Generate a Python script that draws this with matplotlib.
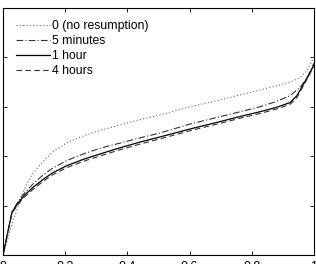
import matplotlib
matplotlib.use("Agg")
import matplotlib.pyplot as plt

plt.rcParams['font.family'] = ['Liberation Sans', 'DejaVu Sans']

labels = ["0 (no resumption)", "5 minutes", "1 hour", "4 hours"]

x_none = [0, 0.012, 0.023, 0.04, 0.055, 0.075, 0.096, 0.13, 0.16, 0.206, 0.25, 0.30, 0.376, 0.44,
          0.505, 0.601, 0.698, 0.826, 0.88, 0.923, 0.955, 0.977, 1.0]
y_none = [0, 0.05, 0.101, 0.165, 0.223, 0.285, 0.330, 0.380, 0.418, 0.455, 0.478, 0.500, 0.526, 0.548,
          0.567, 0.600, 0.628, 0.668, 0.685, 0.700, 0.718, 0.745, 0.802]

x_5min = [0, 0.029, 0.05, 0.07, 0.096, 0.13, 0.16, 0.206, 0.26, 0.312, 0.376, 0.44, 0.505, 0.601,
          0.698, 0.826, 0.88, 0.923, 0.955, 0.98, 1.0]
y_5min = [0, 0.174, 0.220, 0.252, 0.287, 0.325, 0.352, 0.383, 0.410, 0.432, 0.453, 0.474, 0.494, 0.530,
          0.560, 0.600, 0.622, 0.645, 0.678, 0.720, 0.777]

x_1h = [0, 0.029, 0.05, 0.07, 0.096, 0.13, 0.16, 0.206, 0.26, 0.312, 0.376, 0.44, 0.505, 0.601,
        0.698, 0.76, 0.826, 0.88, 0.923, 0.945, 0.97, 1.0]
y_1h = [0, 0.174, 0.213, 0.243, 0.273, 0.307, 0.333, 0.362, 0.388, 0.409, 0.434, 0.457, 0.478, 0.510,
        0.540, 0.560, 0.580, 0.598, 0.617, 0.645, 0.700, 0.769]

x_4h = [0, 0.029, 0.05, 0.07, 0.096, 0.13, 0.16, 0.206, 0.26, 0.312, 0.376, 0.44, 0.505, 0.601,
        0.698, 0.76, 0.826, 0.88, 0.923, 0.945, 0.97, 1.0]
y_4h = [0, 0.170, 0.207, 0.236, 0.265, 0.299, 0.325, 0.354, 0.380, 0.401, 0.426, 0.449, 0.470, 0.503,
        0.533, 0.553, 0.573, 0.591, 0.610, 0.637, 0.694, 0.765]

xticks = [0, 0.2, 0.4, 0.6, 0.8, 1]
xticklabels = ["0", "0.2", "0.4", "0.6", "0.8", "1"]
yticks = [0, 0.2, 0.4, 0.6, 0.8, 1]

fig = plt.figure(figsize=(3.16, 2.64), dpi=100)
ax = fig.add_axes([3/316, 9/264, 311/316, 247/264])

ax.plot(x_none, y_none, color='#666666', linestyle=(0, (1, 2)), linewidth=0.8, label=labels[0])
ax.plot(x_5min, y_5min, color='#333333', linestyle=(0, (6, 2, 1, 2)), linewidth=0.8, label=labels[1])
ax.plot(x_1h, y_1h, color='black', linestyle='-', linewidth=0.9, label=labels[2])
ax.plot(x_4h, y_4h, color='#333333', linestyle=(0, (5, 3)), linewidth=0.8, label=labels[3])

ax.set_xlim(0, 1)
ax.set_ylim(0, 1)
ax.set_xticks(xticks)
ax.set_xticklabels(xticklabels)
ax.set_yticks(yticks)
ax.set_yticklabels([])
ax.tick_params(direction='in', length=3, width=0.6, top=True, right=True, labelsize=9, pad=4)
for s in ax.spines.values():
    s.set_linewidth(0.8)

ax.legend(loc='upper left', frameon=False, fontsize=8.8, handlelength=2.8,
          handletextpad=0.15, labelspacing=0.25, borderaxespad=0.0,
          bbox_to_anchor=(0.025, 0.97))

fig.savefig("out.png", dpi=100)
